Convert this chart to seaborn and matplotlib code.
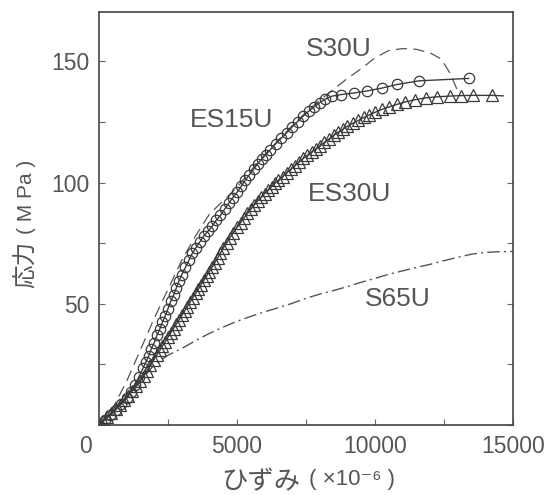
import matplotlib
matplotlib.use("Agg")
import matplotlib.pyplot as plt
import matplotlib.transforms as mtransforms
from matplotlib.ticker import MultipleLocator
import seaborn as sns
import pandas as pd

# ---------------- data ----------------
es15u_strain = [0, 200, 400, 600, 800, 1000, 1150, 1300, 1450, 1600, 1700, 1800, 1900, 2000,
                2100, 2200, 2300, 2400, 2500, 2600, 2700, 2800, 2900, 3000, 3130, 3260, 3380,
                3500, 3650, 3800, 3950, 4100, 4250, 4400, 4550, 4700, 4850, 5000, 5150, 5300,
                5450, 5600, 5750, 5900, 6050, 6200, 6400, 6600, 6800, 7000, 7200, 7400, 7600,
                7800, 8000, 8200, 8450, 8750, 9250, 9700, 10250, 10800, 11600, 13400]
es15u_stress = [0, 2, 4, 6.2, 8.5, 11, 13.5, 16.5, 20, 23.5, 26, 28.5, 31.5, 34,
                37, 39.5, 42.5, 45, 48, 51, 53.5, 56.5, 59.5, 62, 65, 68, 70.8,
                73, 75.5, 78, 80, 82, 84.5, 86.5, 89, 91.5, 93.8, 96, 98.5, 101,
                103.3, 105.5, 107.8, 109.8, 111.6, 113.5, 116, 118.3, 120.6, 123, 125.2, 127.5, 129.5,
                131.3, 133, 134.5, 135.7, 136.3, 137, 137.8, 139, 140.5, 142, 143]

es30u_strain = [0, 150, 300, 450, 600, 750, 900, 1050, 1200, 1350, 1500, 1620, 1740, 1860, 1980,
                2100, 2200, 2300, 2400, 2500, 2600, 2700, 2800, 2900, 3000, 3100, 3200, 3300,
                3400, 3500, 3600, 3700, 3800, 3900, 4000, 4100, 4200, 4300, 4400, 4500, 4620,
                4740, 4870, 5000, 5130, 5260, 5380, 5500, 5630, 5760, 5880, 6000, 6130, 6260,
                6380, 6500, 6650, 6800, 6950, 7100, 7250, 7400, 7550, 7700, 7850, 8000, 8170,
                8340, 8500, 8670, 8840, 9000, 9200, 9400, 9600, 9800, 10000, 10250, 10500,
                10800, 11100, 11450, 11850, 12250, 12700, 13100, 13550, 14250, 14650]
es30u_stress = [0, 1.6, 3.3, 5, 6.7, 8.4, 10.2, 12, 14, 16, 18, 20.2, 22.4, 24.6, 26.8,
                29, 30.8, 32.6, 34.4, 36.2, 38, 39.8, 41.6, 43.4, 45.2, 47, 48.8, 50.7,
                52.5, 54.3, 56.1, 57.9, 59.7, 61.5, 63.3, 65.1, 67, 68.9, 70.9, 73, 75,
                77.2, 79.4, 81.5, 83.5, 85.5, 87.3, 89, 90.8, 92.6, 94, 95.5, 97, 98.4,
                99.7, 101, 102.5, 104, 105.5, 107, 108.5, 110, 111.3, 112.6, 113.8, 115, 116.6,
                118, 119.5, 120.8, 122, 123.3, 124.5, 125.7, 126.9, 128, 129, 130.2, 131.2,
                132.3, 133.3, 134.2, 135, 135.4, 135.7, 135.9, 136, 136, 135.8]

s30u_strain = [0, 500, 1000, 1500, 2000, 2500, 3000, 3500, 4000, 4500, 5000, 5500, 6000, 6500,
               7000, 7500, 8000, 8500, 9000, 9500, 10000, 10500, 11000, 11500, 12000, 12400,
               12700, 13050]
s30u_stress = [0, 7, 18, 31, 44, 56, 68, 78, 87, 92.5, 98, 105, 111.5, 117.5,
               123.5, 129, 134, 138.5, 143, 147, 151.5, 154.5, 155.3, 155, 153.5, 151,
               145.5, 136.5]

s65u_strain = [0, 500, 1000, 1500, 2000, 2500, 3000, 3500, 4000, 4500, 5000, 5500, 6000, 6500,
               7000, 7500, 8000, 8500, 9000, 9500, 10000, 10500, 11000, 11500, 12000, 12500,
               13000, 13500, 14000, 14500, 15000]
s65u_stress = [0, 6, 12, 18.2, 24.8, 28.8, 31.6, 34.8, 37.8, 40.4, 42.8, 44.8, 46.7, 48.4,
               50.2, 52.3, 54, 55.5, 57.1, 58.9, 60.5, 62.2, 63.6, 65, 66.3, 67.8,
               69.2, 70.5, 71.2, 71.5, 71.6]

series_names = ["ES15U", "ES30U", "S30U", "S65U"]
label_x = [4820, 9080, 8690, 10840]
label_y = [125.7, 95.4, 155.2, 52.0]

x_ticks = [0, 5000, 10000, 15000]
y_ticks = [50, 100, 150]

# ---------------- styling ----------------
sns.set_style("ticks")
plt.rcParams["font.family"] = ["Liberation Sans", "DejaVu Sans"]

LINE = "#3a3a3a"
TEXT = "#555555"

fig = plt.figure(figsize=(5.54, 4.95), dpi=100)
ax = fig.add_axes([99 / 554, 70 / 495, 414 / 554, 413 / 495])

df15 = pd.DataFrame({"strain": es15u_strain, "stress": es15u_stress})
df30 = pd.DataFrame({"strain": es30u_strain, "stress": es30u_stress})
dfs30 = pd.DataFrame({"strain": s30u_strain, "stress": s30u_stress})
dfs65 = pd.DataFrame({"strain": s65u_strain, "stress": s65u_stress})

sns.lineplot(data=dfs65, x="strain", y="stress", ax=ax, sort=False, estimator=None,
             color="#555555", linewidth=1.0)
ax.lines[-1].set_dashes([9, 3, 1.5, 3])

sns.lineplot(data=dfs30, x="strain", y="stress", ax=ax, sort=False, estimator=None,
             color="#555555", linewidth=0.9)
ax.lines[-1].set_dashes([9, 5])

sns.lineplot(data=df30, x="strain", y="stress", ax=ax, sort=False, estimator=None,
             color=LINE, linewidth=1.0, marker="^", markersize=8,
             markerfacecolor="none", markeredgecolor=LINE, markeredgewidth=0.9,
             markevery=slice(0, len(es30u_strain) - 1))

sns.lineplot(data=df15, x="strain", y="stress", ax=ax, sort=False, estimator=None,
             color=LINE, linewidth=1.0, marker="o", markersize=7.5,
             markerfacecolor="none", markeredgecolor=LINE, markeredgewidth=0.9)

for name, lx, ly in zip(series_names, label_x, label_y):
    ax.text(lx, ly, name, ha="center", va="center", fontsize=19, color=TEXT)

ax.set_xlim(0, 15000)
ax.set_ylim(0, 170.4)
ax.set_xticks(x_ticks)
ax.set_xticklabels([str(t) for t in x_ticks])
ax.set_yticks(y_ticks)
ax.set_yticklabels([str(t) for t in y_ticks])
ax.xaxis.set_minor_locator(MultipleLocator(2500))
ax.yaxis.set_minor_locator(MultipleLocator(25))
ax.tick_params(axis="both", which="both", direction="in", length=4, width=0.8,
               color="#666666", labelsize=16.5, labelcolor=TEXT, pad=7)
ax.tick_params(axis="y", which="both", right=True)
ax.set_xlabel("")
ax.set_ylabel("")
for sp in ax.spines.values():
    sp.set_color("#444444")
    sp.set_linewidth(1.2)
    sp.set_visible(True)

# shift the origin "0" label to the left
lbl0 = ax.get_xticklabels()[0]
lbl0.set_transform(lbl0.get_transform() + mtransforms.ScaledTranslation(-14 / 100, 0, fig.dpi_scale_trans))

# axis titles
fig.text(261 / 554, 1 - 482 / 495, "ひずみ", ha="center", va="center", fontsize=19,
         color=TEXT, family=["Noto Sans CJK JP", "DejaVu Sans"])
fig.text(352 / 554, 1 - 480 / 495, "( ×10⁻⁶ )", ha="center", va="center", fontsize=16,
         color=TEXT, family=["Liberation Sans", "DejaVu Sans"])
fig.text(26 / 554, 1 - 264 / 495, "応力", ha="center", va="center", fontsize=17,
         rotation=90, color=TEXT, family=["Noto Sans CJK JP", "DejaVu Sans"])
fig.text(27 / 554, 1 - 197 / 495, "( M Pa )", ha="center", va="center", fontsize=15,
         rotation=90, color=TEXT, family=["Liberation Sans", "DejaVu Sans"])

fig.savefig("out.png", dpi=100)
